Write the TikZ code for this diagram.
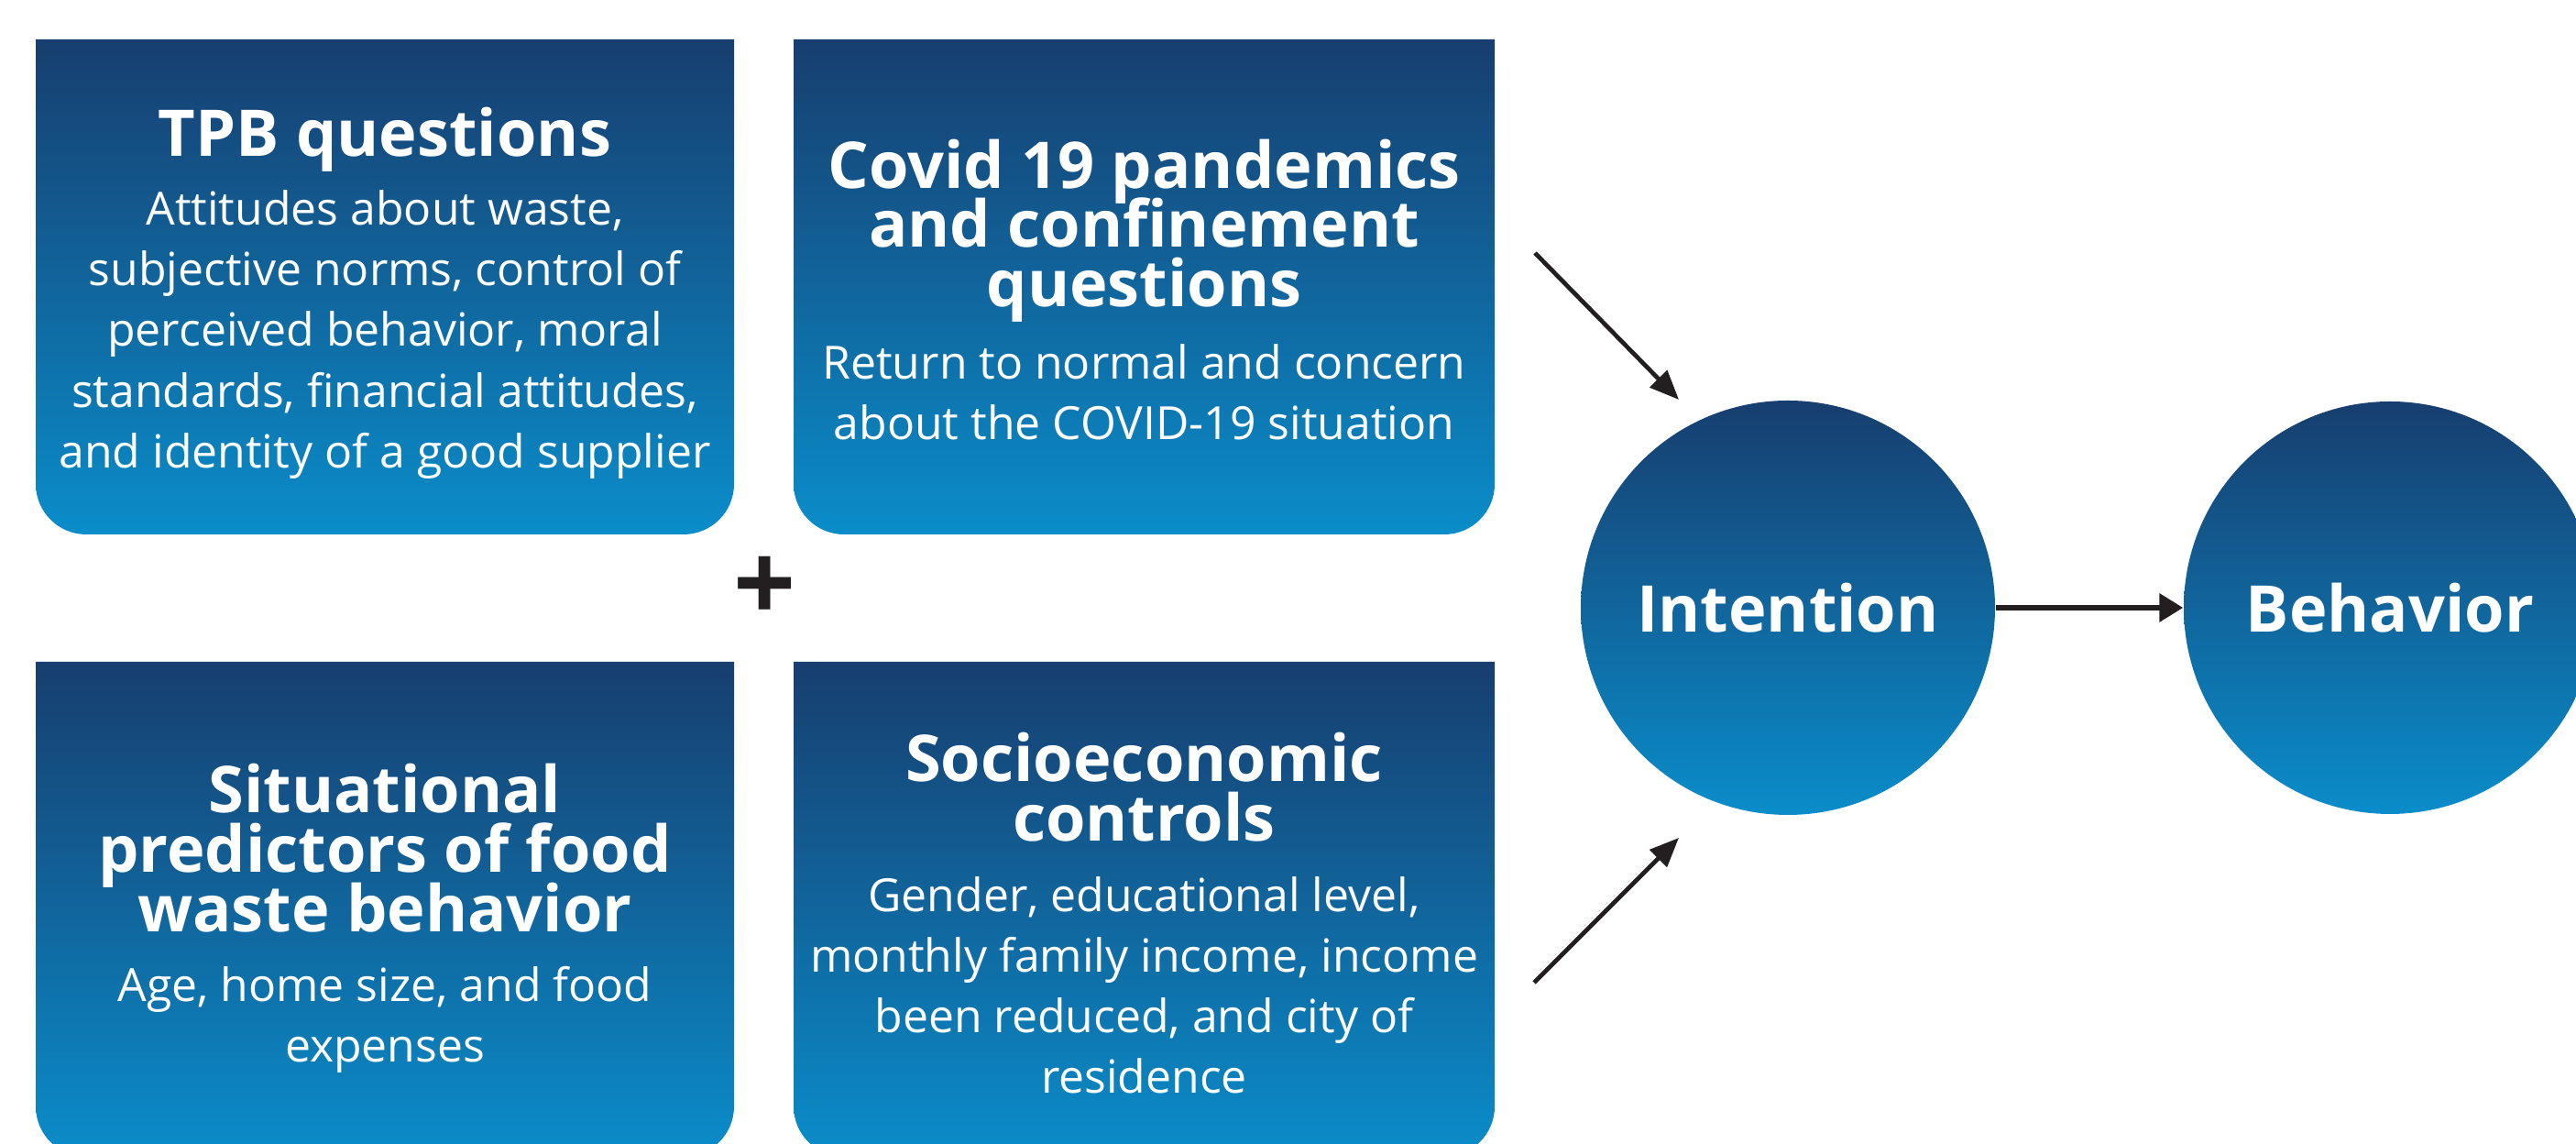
\documentclass[tikz,border=0pt]{standalone}
\usepackage{fontspec}
\setmainfont{Open Sans}
\usetikzlibrary{arrows.meta}
\definecolor{ctop}{HTML}{173E6F}
\definecolor{cbot}{HTML}{0A8DCA}
\definecolor{arr}{HTML}{231F20}
\newcommand{\ttlfont}{\fontsize{20}{18.4}\selectfont\bfseries\lineskiplimit=-30pt\relax}
\newcommand{\bdyfont}{\fontsize{14.2}{18.8}\selectfont\lineskiplimit=-30pt\relax}
\begin{document}
\begin{tikzpicture}[
  fillgrad/.style={top color=ctop, bottom color=cbot, draw=none},
  ttl/.style={text=white, align=center, inner sep=0pt, font=\ttlfont},
  bdy/.style={text=white, align=center, inner sep=0pt, font=\bdyfont},
  circ/.style={circle, inner sep=0pt, top color=ctop, bottom color=cbot,
    draw=none, text=white, font=\fontsize{20}{24}\selectfont\bfseries},
  thinarrow/.style={draw=arr, line width=1.35pt, -{Triangle[length=0.32cm,width=0.26cm]}},
  thickarrow/.style={draw=arr, line width=1.8pt, -{Triangle[length=0.26cm,width=0.3cm]}},
]
\useasboundingbox (0,0) rectangle (28.11,12.48);

% boxes
\shade[fillgrad] (0.39,12.05) -- (8.01,12.05) -- (8.01,7.20)
  arc[start angle=0,end angle=-90,radius=0.55] -- (0.94,6.65)
  arc[start angle=270,end angle=180,radius=0.55] -- cycle;
\shade[fillgrad] (8.66,12.05) -- (16.31,12.05) -- (16.31,7.20)
  arc[start angle=0,end angle=-90,radius=0.55] -- (9.21,6.65)
  arc[start angle=270,end angle=180,radius=0.55] -- cycle;
\shade[fillgrad] (0.39,5.26) -- (8.01,5.26) -- (8.01,0.41)
  arc[start angle=0,end angle=-90,radius=0.55] -- (0.94,-0.14)
  arc[start angle=270,end angle=180,radius=0.55] -- cycle;
\shade[fillgrad] (8.66,5.26) -- (16.31,5.26) -- (16.31,0.41)
  arc[start angle=0,end angle=-90,radius=0.55] -- (9.21,-0.14)
  arc[start angle=270,end angle=180,radius=0.55] -- cycle;

% texts
\node[ttl] (t1) at (4.20,10.96) {TPB questions};
\node[bdy] (d1) at (4.20,8.83) {Attitudes about waste,\\subjective norms, control of\\perceived behavior, moral\\standards, financial attitudes,\\and identity of a good supplier};
\node[ttl] (t2) at (12.485,9.965) {Covid 19 pandemics\\and confinement\\questions};
\node[bdy] (d2) at (12.485,8.20) {Return to normal and concern\\about the COVID-19 situation};
\node[ttl] (t3) at (4.20,3.23) {Situational\\predictors of food\\waste behavior};
\node[bdy] (d3) at (4.20,1.36) {Age, home size, and food\\expenses};
\node[ttl] (t4) at (12.485,3.895) {Socioeconomic\\controls};
\node[bdy] (d4) at (12.485,1.735) {Gender, educational level,\\monthly family income, income\\been reduced, and city of\\residence};

\node[font=\fontsize{34}{34}\selectfont\bfseries, text=arr, inner sep=0pt] (plus) at (8.35,6.05) {+};

% circles
\node[circ, minimum size=4.52cm] (int) at (19.51,5.85) {Intention};
\node[circ, minimum size=4.50cm] (beh) at (26.08,5.85) {Behavior};

% arrows
\coordinate (a1s) at (16.75,9.72);
\coordinate (a1e) at (18.32,8.12);
\coordinate (a2s) at (16.74,1.76);
\coordinate (a2e) at (18.32,3.34);
\draw[thinarrow] (a1s) -- (a1e);
\draw[thinarrow] (a2s) -- (a2e);
\draw[thickarrow] (int) -- (beh);
\end{tikzpicture}
\end{document}
